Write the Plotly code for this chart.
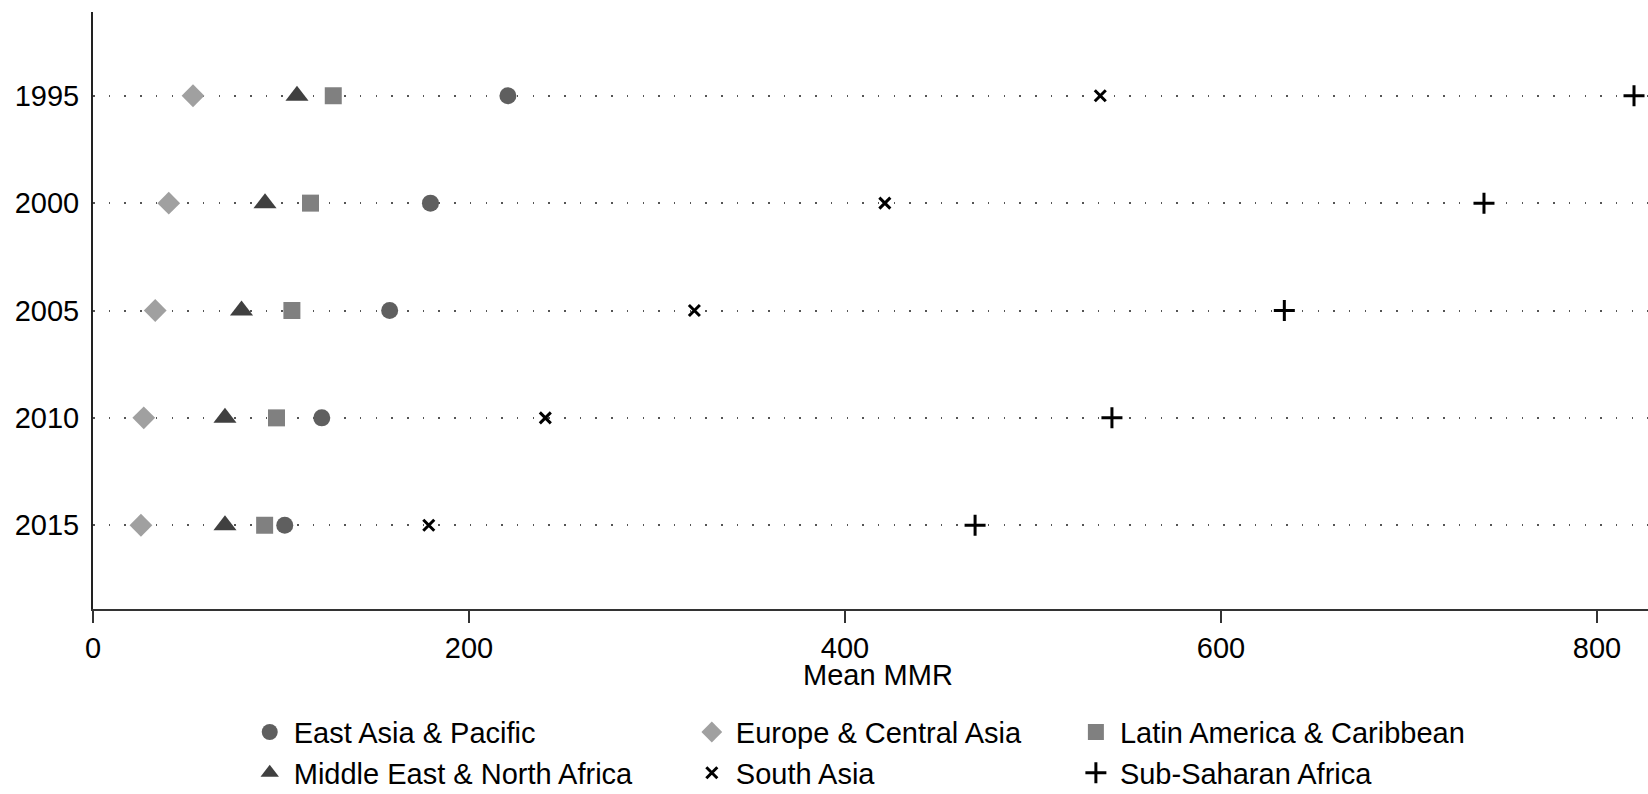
import plotly.graph_objects as go

years = [1995, 2000, 2005, 2010, 2015]
regions = ["East Asia & Pacific", "Europe & Central Asia", "Latin America & Caribbean",
           "Middle East & North Africa", "South Asia", "Sub-Saharan Africa"]
east_asia = [220.7, 179.5, 157.8, 121.7, 102.0]
europe = [53.2, 40.3, 33.1, 27.0, 25.5]
latin_america = [127.8, 115.7, 105.8, 97.6, 91.3]
mena = [108.5, 91.5, 79.0, 70.2, 70.2]
south_asia = [535.8, 421.2, 319.9, 240.6, 178.6]
ssa = [819.7, 739.9, 633.7, 542.0, 469.2]
x_ticks = [0, 200, 400, 600, 800]

FONT = "Liberation Sans, Arial, Helvetica, sans-serif"

series = [
    (east_asia, regions[0], dict(symbol="circle", size=17, color="#5f5f5f"), "legend"),
    (mena, regions[3], dict(symbol="triangle-up", size=20, color="#404040"), "legend"),
    (europe, regions[1], dict(symbol="diamond", size=17.5, color="#a0a0a0"), "legend2"),
    (south_asia, regions[4], dict(symbol="x-thin", size=11, color="black",
                                  line=dict(width=3, color="black")), "legend2"),
    (latin_america, regions[2], dict(symbol="square", size=17, color="#808080"), "legend3"),
    (ssa, regions[5], dict(symbol="cross-thin", size=15, color="black",
                           line=dict(width=3, color="black")), "legend3"),
]

fig = go.Figure()
for vals, name, marker, leg in series:
    m = dict(marker)
    if "line" not in m:
        m["line"] = dict(width=0)
    fig.add_trace(go.Scatter(x=vals, y=years, mode="markers", name=name,
                             marker=m, legend=leg, cliponaxis=False))

W, H = 1648, 794
L, R, T = 93.3, 0, 12
plot_bottom = 609.3
B = H - plot_bottom
pw = W - L - R
ph = plot_bottom - T
PX_PER_UNIT = 1.8796

def px_x(p):
    return (p - L) / pw

def px_y(p):
    return (plot_bottom - p) / ph

leg_common = dict(orientation="v", yanchor="top", xanchor="left",
                  font=dict(family=FONT, size=29, color="black"),
                  bgcolor="rgba(0,0,0,0)", borderwidth=0, itemclick=False,
                  itemwidth=38, tracegroupgap=0)

LEG_TOP = 707
fig.update_layout(
    width=W, height=H,
    margin=dict(l=L, r=R, t=T, b=B, autoexpand=False),
    paper_bgcolor="white", plot_bgcolor="white",
    font=dict(family=FONT, size=29, color="black"),
    legend=dict(x=px_x(270 - 24), y=px_y(LEG_TOP), **leg_common),
    legend2=dict(x=px_x(712 - 24), y=px_y(LEG_TOP), **leg_common),
    legend3=dict(x=px_x(1096 - 24), y=px_y(LEG_TOP), **leg_common),
    xaxis=dict(range=[0, pw / PX_PER_UNIT], tickvals=x_ticks, ticks="outside", ticklen=12,
               tickwidth=1.5, tickcolor="#333", showline=True, linecolor="#333",
               linewidth=2, showgrid=False, zeroline=False,
               tickfont=dict(size=29, color="black")),
    yaxis=dict(range=[2018.9, 1991.1], tickvals=years, ticktext=[str(y) for y in years],
               ticks="", showline=True, linecolor="#222", linewidth=2,
               ticklabelstandoff=6,
               showgrid=True, gridcolor="#555", gridwidth=1.5, griddash="1.5px,14.2px",
               zeroline=False, tickfont=dict(size=29, color="black")),
    annotations=[dict(text="Mean MMR", xref="paper", yref="paper",
                      x=px_x(878), y=px_y(675),
                      xanchor="center", yanchor="middle", showarrow=False,
                      font=dict(family=FONT, size=29, color="black"))],
)

# remove the default 8px page margin so the figure fills the window exactly
fig.write_html("out.html", config={"displayModeBar": False},
               post_script="document.body.style.margin='0px';")
